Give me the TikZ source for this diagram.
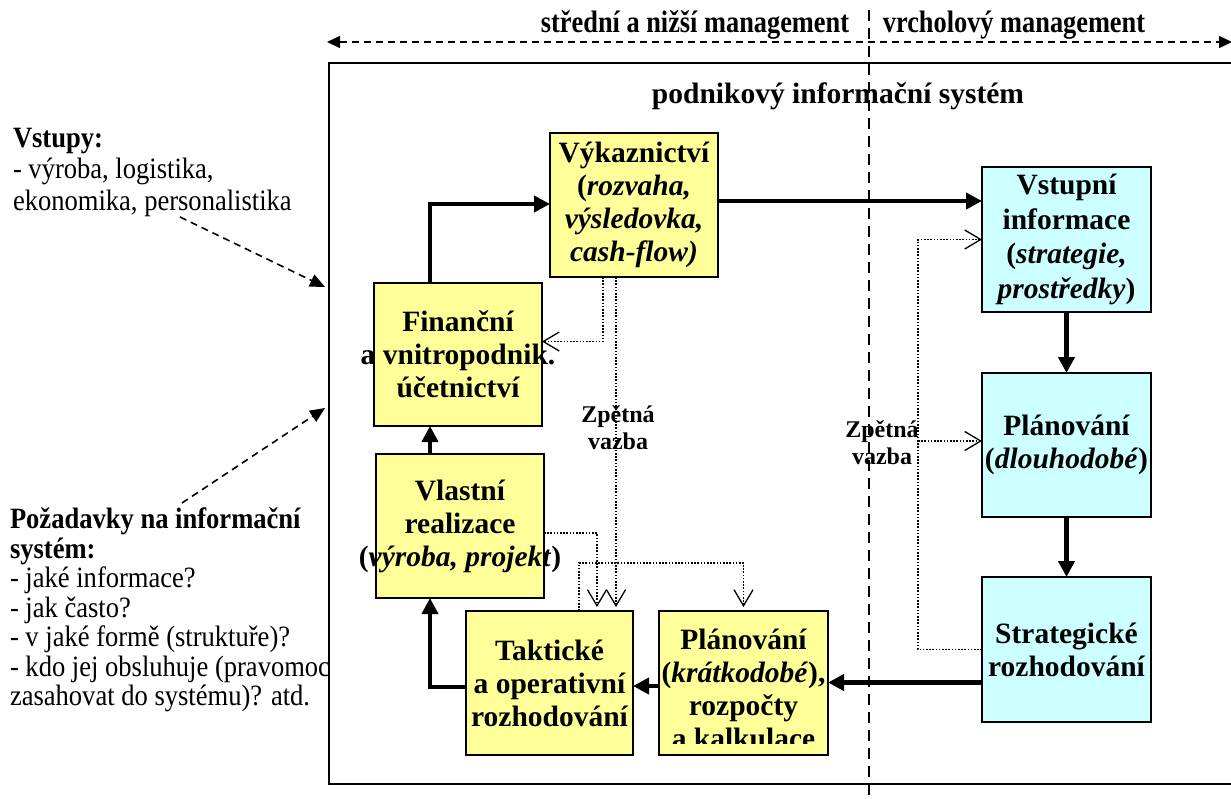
\documentclass[tikz,border=0pt]{standalone}
\usepackage{fontspec}
\setmainfont{Liberation Serif}
\newfontfamily\condserif{Liberation Serif}[FakeStretch=0.9]
\newfontfamily\headserif{Liberation Serif}[FakeStretch=0.85]
\usetikzlibrary{arrows.meta}
\definecolor{boxyellow}{HTML}{FFFF99}
\definecolor{boxcyan}{HTML}{CCFFFF}
\newcommand\boxfont{\fontsize{29.5}{33}\selectfont\bfseries}
\tikzset{
  every node/.style={inner sep=0pt, outer sep=0pt},
  % negative horizontal padding lets long lines run past the box edges
  procbox/.style={draw, line width=1.8pt, minimum width=168pt, minimum height=144pt,
    inner xsep=-30pt, align=center, font=\boxfont},
  midbox/.style={procbox, fill=boxyellow},
  topbox/.style={procbox, fill=boxcyan},
  lefttext/.style={align=left, font=\condserif\fontsize{29.5}{31.5}\selectfont},
  flow/.style={line width=4.5pt, line join=miter, -{Triangle[length=16pt,width=16pt]}},
  feedback/.style={line width=1.4pt, dash pattern=on 1.6pt off 1.6pt,
    -{Straight Barb[length=16pt,width=19pt,line width=1.3pt]}},
  inarrow/.style={line width=1.6pt, dash pattern=on 7pt off 5pt,
    -{Triangle[length=15pt,width=13pt]}},
  fblabel/.style={align=center, font=\fontsize{24}{27}\selectfont\bfseries},
  headlabel/.style={font=\headserif\fontsize{31}{34}\selectfont\bfseries},
}
\begin{document}
\begin{tikzpicture}[x=1pt,y=-1pt]
\clip (0,0) rectangle (1231,798);

% inputs and requirements, to the left of the system
\node[lefttext, anchor=north west] (inputs) at (13,128)
  {\textbf{Vstupy:}\\- výroba, logistika,\\ekonomika, personalistika};
\node[lefttext, anchor=north west, font=\condserif\fontsize{29.5}{29.5}\selectfont] (reqs) at (10,508)
  {\textbf{Požadavky na informační}\\\textbf{systém:}\\- jaké informace?\\- jak často?\\
   - v jaké formě (struktuře)?\\- kdo jej obsluhuje (pravomoci\\zasahovat do systému)? atd.};

% the information system frame
\node[draw, line width=2pt, fill=white, anchor=north west,
      minimum width=930pt, minimum height=721pt] (pis) at (329,63) {};
\node[font=\fontsize{29.5}{34}\selectfont\bfseries] (pistitle) at (838,96)
  {podnikový informační systém};

% process boxes
\node[midbox] (vyk) at (634,205)
  {Výkaznictví\\(\textit{rozvaha,}\\\textit{výsledovka,}\\\textit{cash-flow)}};
\node[midbox, minimum height=143pt] (fin) at (458,354.5)
  {Finanční\\a vnitropodnik.\\účetnictví};
\node[midbox] (vla) at (460,526)
  {Vlastní\\realizace\\(\textit{výroba, projekt})};
\node[midbox, minimum width=167pt] (tak) at (549.5,683)
  {Taktické\\a operativní\\rozhodování};
\node[midbox, minimum width=169pt] (plk) at (743.5,683) {};
\begin{scope}
  \clip (640,600) rectangle (845,743);
  \node[align=center, font=\boxfont] (plktext) at (743.5,689)
    {Plánování\\(\textit{krátkodobé}),\\rozpočty\\a kalkulace};
\end{scope}
\node[topbox, minimum width=169pt, minimum height=145pt,
      font=\fontsize{29.5}{34.5}\selectfont\bfseries] (vst) at (1066.5,239.5)
  {Vstupní\\informace\\(\textit{strategie,}\\\textit{prostředky})};
\node[topbox, minimum width=169pt] (pld) at (1066.5,445)
  {Plánování\\(\textit{dlouhodobé})};
\node[topbox, minimum width=169pt, minimum height=145pt] (str) at (1066.5,649.5)
  {Strategické\\rozhodování};

% main flow
\draw[flow] ([xshift=-28pt]fin.north) |- ([yshift=1pt]vyk.west);
\draw[flow] ([yshift=4pt]vyk.east) -- ([yshift=4pt]vyk.east -| vst.west);
\draw[flow] (vst.south) -- (pld.north);
\draw[flow] (pld.south) -- (str.north);
\draw[flow] ([yshift=-33pt]str.west) -- ([yshift=-33pt]str.west -| plk.east);
\draw[flow] ([yshift=-3pt]plk.west) -- ([yshift=-3pt]plk.west -| tak.east);
\draw[flow] ([yshift=-4pt]tak.west) -| ([xshift=-30pt]vla.south);
\draw[flow] ([xshift=-30pt]vla.north) -- ([xshift=-30pt]vla.north |- fin.south);

% feedback, middle and lower management
\draw[feedback] ([xshift=-31pt]vyk.south) |- ([yshift=13pt]fin.east);
\draw[feedback, shorten >=4pt] ([xshift=-18pt]vyk.south) -- ([xshift=-18pt]vyk.south |- tak.north);
\draw[feedback, shorten >=4pt] ([yshift=-7pt]vla.east) -| ([xshift=47.5pt]tak.north);
\draw[feedback, shorten >=4pt] ([xshift=29.5pt]tak.north) -- ++(0,-48) -| (plk.north);
\node[fblabel] (fb1) at (618,428) {Zpětná\\vazba};

% feedback, top management
\coordinate (fbcorner) at ([xshift=-64pt]vst.west);
\coordinate (pldin) at ([yshift=4pt]pld.west);
\draw[feedback] (str.west) -| (fbcorner) -- (vst.west);
\draw[feedback] (fbcorner |- pldin) -- (pldin);
\node[fblabel] (fb2) at (882,443) {Zpětná\\vazba};

% inputs into the system
\coordinate (in1s) at (180,217);
\coordinate (in1e) at (325,287);
\coordinate (in2s) at (182,503);
\coordinate (in2e) at (325,408);
\draw[inarrow] (in1s) -- (in1e);
\draw[inarrow] (in2s) -- (in2e);

% management levels
\coordinate (divtop) at (869,10);
\coordinate (divbot) at (869,798);
\draw[line width=1.8pt, dash pattern=on 11pt off 7pt] (divtop) -- (divbot);
\coordinate (hl) at (327,42);
\coordinate (hr) at (1232,42);
\draw[line width=1.6pt, dash pattern=on 7pt off 5pt,
      {Triangle[length=13pt,width=12pt]}-{Triangle[length=13pt,width=12pt]}] (hl) -- (hr);
\node[headlabel] (lvl1) at (695,25) {střední a nižší management};
\node[headlabel] (lvl2) at (1014,25) {vrcholový management};
\end{tikzpicture}
\end{document}
